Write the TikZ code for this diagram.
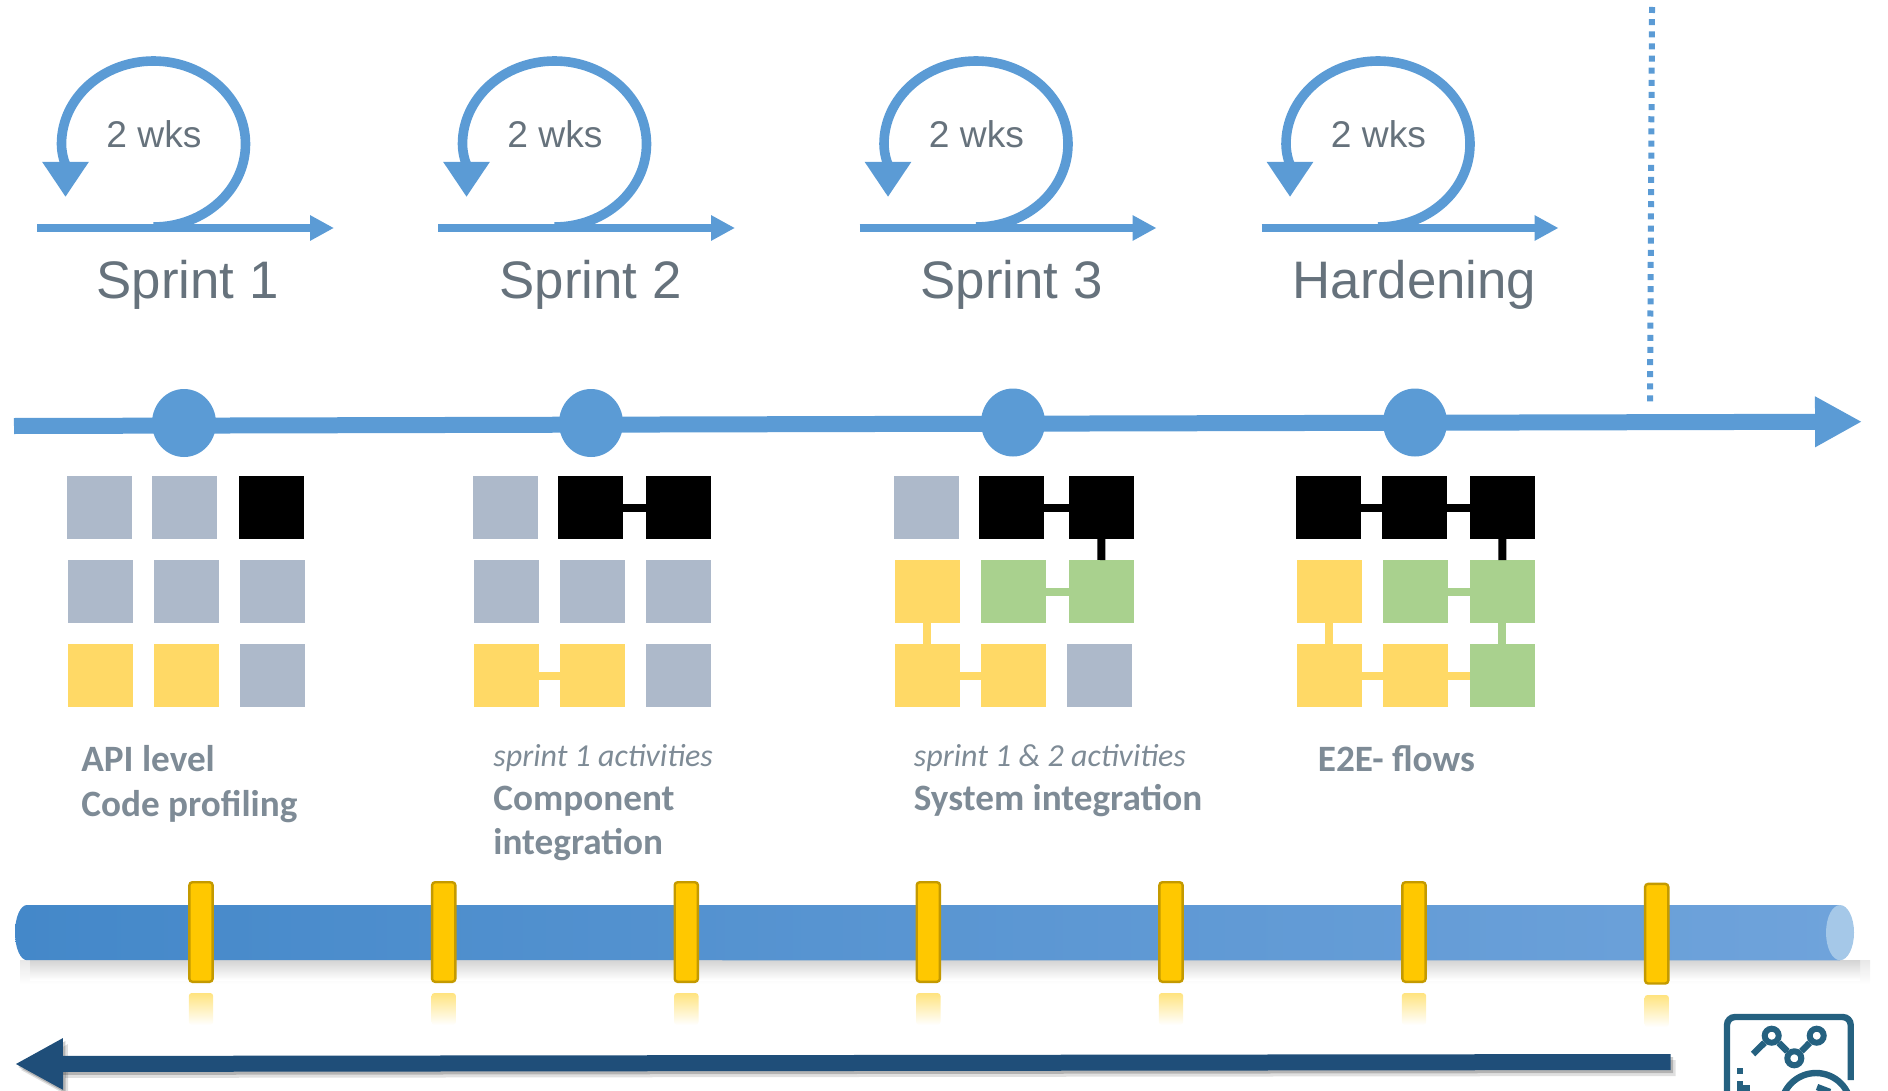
\documentclass[tikz,border=0pt]{standalone}
\usepackage{fontspec}
\setmainfont{Liberation Sans}
\newfontfamily\notefont{Carlito}
\definecolor{sprintblue}{RGB}{91,155,213}
\definecolor{labelgray}{RGB}{102,114,124}
\definecolor{notegray}{RGB}{126,139,150}
\definecolor{sqgraycol}{RGB}{173,185,202}
\definecolor{sqyellowcol}{RGB}{255,217,102}
\definecolor{sqgreencol}{RGB}{169,209,142}
\definecolor{tickyellow}{RGB}{255,200,0}
\definecolor{tickborder}{RGB}{196,154,0}
\definecolor{backblue}{RGB}{31,78,121}
\definecolor{iconteal}{RGB}{37,97,128}
\definecolor{pipeleft}{RGB}{68,136,201}
\definecolor{pipemid}{RGB}{90,154,218}
\definecolor{piperight}{RGB}{111,163,219}
\usetikzlibrary{arrows.meta, positioning, shapes.geometric}

\begin{document}
\begin{tikzpicture}[
    x=0.5pt, y=-0.5pt,
    node distance=10.5pt and 10.5pt,
    square/.style={rectangle, minimum width=32.5pt, minimum height=31.5pt, inner sep=0pt, outer sep=0pt},
    sqgray/.style={square, fill=sqgraycol},
    sqblack/.style={square, fill=black},
    sqyellow/.style={square, fill=sqyellowcol},
    sqgreen/.style={square, fill=sqgreencol},
    linkblack/.style={line width=4pt, color=black},
    linkyellow/.style={line width=4pt, color=sqyellowcol},
    linkgreen/.style={line width=4pt, color=sqgreencol},
    sprintline/.style={-{Triangle[length=12pt, width=12pt]}, line width=4pt, color=sprintblue},
    sprintloop/.style={-{Triangle[length=17.5pt, width=22pt]}, line width=4.8pt, color=sprintblue},
    weeks/.style={anchor=base, text=labelgray, font=\fontsize{18.6}{22}\selectfont},
    sprintname/.style={anchor=base, text=labelgray, font=\fontsize{26.4}{30}\selectfont},
    milestone/.style={ellipse, fill=sprintblue, minimum width=32pt, minimum height=34pt, inner sep=0pt},
    note/.style={anchor=base west, align=left, text=notegray, inner sep=0pt, font=\notefont\bfseries\fontsize{18.6}{22}\selectfont},
    tick/.style={rectangle, rounded corners=1.5pt, fill=tickyellow, draw=tickborder, line width=1.2pt, minimum width=11.6pt, minimum height=49.8pt, inner sep=0pt},
    tickshade/.style={rectangle, rounded corners=1.5pt, top color=tickyellow!50, bottom color=white, minimum width=12.2pt, minimum height=16pt, inner sep=0pt},
    chartdot/.style={circle, draw=iconteal, fill=white, line width=3pt, minimum size=7pt, inner sep=0pt},
    iconline/.style={line width=3.2pt, color=iconteal}
]
    \useasboundingbox (0,0) rectangle (1888,1091);
    \clip (0,0) rectangle (1888,1091);

    % Release marker
    \coordinate (marktop) at (1652,7);
    \coordinate (markbottom) at (1650,403);
    \draw[sprintblue, line width=3pt, dash pattern=on 3pt off 3.07pt] (marktop) -- (markbottom);

    % Sprint 1
    \coordinate (s1start) at (37,228);
    \coordinate (s1end) at (334,228);
    \draw[sprintline] (s1start) -- (s1end);
    \draw[sprintloop] (153.5,227) arc[start angle=-90, end angle=180, x radius=46pt, y radius=41.5pt] .. controls (61.5,155) and (65.5,165) .. (65.5,197);
    \node[weeks] (wks1) at (154,148) {2 wks};
    \node[sprintname] (name1) at (187.5,298) {Sprint 1};

    % Sprint 2
    \coordinate (s2start) at (438,228);
    \coordinate (s2end) at (735,228);
    \draw[sprintline] (s2start) -- (s2end);
    \draw[sprintloop] (554.5,227) arc[start angle=-90, end angle=180, x radius=46pt, y radius=41.5pt] .. controls (462.5,155) and (466.5,165) .. (466.5,197);
    \node[weeks] (wks2) at (555,148) {2 wks};
    \node[sprintname] (name2) at (590.5,298) {Sprint 2};

    % Sprint 3
    \coordinate (s3start) at (859.5,228);
    \coordinate (s3end) at (1156.5,228);
    \draw[sprintline] (s3start) -- (s3end);
    \draw[sprintloop] (976,227) arc[start angle=-90, end angle=180, x radius=46pt, y radius=41.5pt] .. controls (884,155) and (888,165) .. (888,197);
    \node[weeks] (wks3) at (976.5,148) {2 wks};
    \node[sprintname] (name3) at (1011.5,298) {Sprint 3};

    % Hardening
    \coordinate (s4start) at (1261.5,228);
    \coordinate (s4end) at (1558.5,228);
    \draw[sprintline] (s4start) -- (s4end);
    \draw[sprintloop] (1378,227) arc[start angle=-90, end angle=180, x radius=46pt, y radius=41.5pt] .. controls (1286,155) and (1290,165) .. (1290,197);
    \node[weeks] (wks4) at (1378.5,148) {2 wks};
    \node[sprintname] (name4) at (1414.5,298) {Hardening};

    % Timeline
    \coordinate (linestart) at (14,426);
    \coordinate (lineend) at (1862,421.7);
    \draw[-{Triangle[length=23.5pt, width=23.7pt]}, line width=8pt, color=sprintblue] (linestart) -- (lineend);
    \node[milestone] (m1) at (184,423) {};
    \node[milestone] (m2) at (591,423) {};
    \node[milestone] (m3) at (1013,422.5) {};
    \node[milestone] (m4) at (1415,422.5) {};

    % Sprint 1 squares
    \node[sqgray] (a11) at (99.5,507.5) {};
    \node[sqgray, right=9.85pt of a11] (a12) {};
    \node[sqblack, right=10.9pt of a12] (a13) {};
    \node[sqgray, below=of a11, xshift=.45pt] (a21) {};
    \node[sqgray, right=of a21] (a22) {};
    \node[sqgray, right=of a22] (a23) {};
    \node[sqyellow, below=of a21] (a31) {};
    \node[sqyellow, right=of a31] (a32) {};
    \node[sqgray, right=of a32] (a33) {};

    % Sprint 2 squares
    \node[sqgray] (b11) at (505.6,507.5) {};
    \node[sqblack, right=10pt of b11] (b12) {};
    \node[sqblack, right=11.4pt of b12] (b13) {};
    \node[sqgray, below=of b11, xshift=.45pt] (b21) {};
    \node[sqgray, right=of b21] (b22) {};
    \node[sqgray, right=of b22] (b23) {};
    \node[sqyellow, below=of b21] (b31) {};
    \node[sqyellow, right=of b31] (b32) {};
    \node[sqgray, right=of b32] (b33) {};
    \draw[linkblack] (b12) -- (b13);
    \draw[linkyellow] (b31) -- (b32);

    % Sprint 3 squares
    \node[sqgray] (c11) at (926.5,507.5) {};
    \node[sqblack, right=10pt of c11] (c12) {};
    \node[sqblack, right=12.5pt of c12] (c13) {};
    \node[sqyellow, below=of c11, xshift=.45pt] (c21) {};
    \node[sqgreen, right=of c21] (c22) {};
    \node[sqgreen, right=11.35pt of c22] (c23) {};
    \node[sqyellow, below=of c21] (c31) {};
    \node[sqyellow, right=of c31] (c32) {};
    \node[sqgray, right=of c32] (c33) {};
    \draw[linkblack] (c12) -- (c13);
    \draw[linkblack] (c13) -- (c23);
    \draw[linkgreen] (c22) -- (c23);
    \draw[linkyellow] (c21) -- (c31);
    \draw[linkyellow] (c31) -- (c32);

    % Hardening squares
    \node[sqblack] (d11) at (1328.5,507.5) {};
    \node[sqblack, right=of d11] (d12) {};
    \node[sqblack, right=11.4pt of d12] (d13) {};
    \node[sqyellow, below=of d11, xshift=.45pt] (d21) {};
    \node[sqgreen, right=of d21] (d22) {};
    \node[sqgreen, right=10.9pt of d22] (d23) {};
    \node[sqyellow, below=of d21] (d31) {};
    \node[sqyellow, right=of d31] (d32) {};
    \node[sqgreen, right=10.9pt of d32] (d33) {};
    \draw[linkblack] (d11) -- (d12);
    \draw[linkblack] (d12) -- (d13);
    \draw[linkblack] (d13) -- (d23);
    \draw[linkgreen] (d22) -- (d23);
    \draw[linkgreen] (d23) -- (d33);
    \draw[linkyellow] (d21) -- (d31);
    \draw[linkyellow] (d31) -- (d32);
    \draw[linkyellow] (d32) -- (d33);

    % Notes
    \node[note] (note1) at (81,816.7) {API level\\[0.5pt]Code profiling};
    \node[note] (note2) at (493,854) {{\mdseries\itshape\fontsize{16}{22}\selectfont sprint 1 activities}\\Component\\integration};
    \node[note] (note3) at (913.5,810) {{\mdseries\itshape\fontsize{16}{22}\selectfont sprint 1 \& 2 activities}\\System integration};
    \node[note] (note4) at (1317.5,771.5) {E2E- flows};

    % Pipe
    \fill[top color=black!9, bottom color=white] (20,960) rectangle (1870,984);
    \fill[top color=black!17, middle color=black!14, bottom color=white] (30,960) rectangle (1860,980);
    \path[left color=pipeleft, middle color=pipemid, right color=piperight, shading angle=90]
        (1840,905) -- (27,905) arc[start angle=90, end angle=270, x radius=6pt, y radius=13.8pt] -- (1840,960.3) -- cycle;
    \node[ellipse, fill=sprintblue!55!white, minimum width=14pt, minimum height=27.6pt, inner sep=0pt] (pipeend) at (1840,932.6) {};

    % Ticks
    \node[tick] (t1) at (201,932) {};
    \node[tick] (t2) at (443.7,932) {};
    \node[tick] (t3) at (686.3,932) {};
    \node[tick] (t4) at (928.3,932) {};
    \node[tick] (t5) at (1171,932) {};
    \node[tick] (t6) at (1414,932) {};
    \node[tick] (t7) at (1656.7,933.7) {};
    \node[tickshade] (r1) at (201,1009) {};
    \node[tickshade] (r2) at (443.7,1009) {};
    \node[tickshade] (r3) at (686.3,1009) {};
    \node[tickshade] (r4) at (928.3,1009) {};
    \node[tickshade] (r5) at (1171,1009) {};
    \node[tickshade] (r6) at (1414,1009) {};
    \node[tickshade] (r7) at (1656.7,1011) {};

    % Return arrow
    \coordinate (backstart) at (1670.5,1062);
    \coordinate (backend) at (15,1064);
    \draw[-{Triangle[length=24pt, width=24pt]}, line width=8pt, color=black, opacity=.12] ([shift={(5,6)}]backstart) -- ([shift={(5,6)}]backend);
    \draw[-{Triangle[length=24pt, width=24pt]}, line width=8pt, color=black, opacity=.2] ([shift={(2.5,3)}]backstart) -- ([shift={(2.5,3)}]backend);
    \draw[-{Triangle[length=24pt, width=24pt]}, line width=8pt, color=backblue] (backstart) -- (backend);

    % Icon
    \draw[iconline, rounded corners=4pt] (1850.7,1080) -- (1850.7,1017) -- (1727,1017) -- (1727,1095);
    \node[chartdot] (pt1) at (1771.7,1035.7) {};
    \node[chartdot] (pt2) at (1794.3,1058.3) {};
    \node[chartdot] (pt3) at (1816.7,1035.7) {};
    \coordinate (ptstart) at (1753,1054);
    \draw[iconline] (ptstart) -- (pt1);
    \draw[iconline] (pt1) -- (pt2);
    \draw[iconline] (pt2) -- (pt3);
    \fill[iconteal] (1737,1068) rectangle (1743,1074);
    \draw[iconline] (1740,1081) -- (1740,1088) -- (1750,1088);
    \draw[iconline] (1816,1108) circle[radius=17.5pt];
    \draw[iconline] (1817,1087) -- (1830,1092);
\end{tikzpicture}
\end{document}
